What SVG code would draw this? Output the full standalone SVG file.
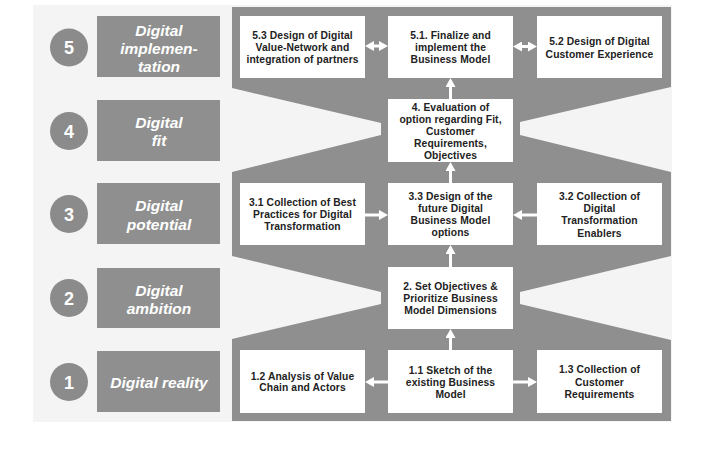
<svg xmlns="http://www.w3.org/2000/svg" width="713" height="451" viewBox="0 0 713 451">
<style>
.lvl{fill:#8f8f8f}
.circ{fill:#8b8b8b}
.num{font-family:"Liberation Sans",Arial,sans-serif;font-weight:bold;font-size:18px;fill:#fff;text-anchor:middle}
.lt{font-family:"Liberation Sans",Arial,sans-serif;font-weight:bold;font-style:italic;font-size:15.5px;fill:#fff;text-anchor:middle}
.box{fill:#fff}
.bt{font-family:"Liberation Sans",Arial,sans-serif;font-weight:bold;font-size:10.3px;letter-spacing:0.1px;fill:#222;text-anchor:middle}
.con line{stroke:#fff;stroke-width:3;fill:none}
</style>
<defs>
<marker id="ah" viewBox="0 0 9 10" markerWidth="9" markerHeight="10" refX="4" refY="5" markerUnits="userSpaceOnUse" orient="auto-start-reverse">
<path d="M0,0 L9,5 L0,10 Z" fill="#fff"/>
</marker>
</defs>
<rect x="0" y="0" width="713" height="451" fill="#fff"/>
<rect x="33" y="5" width="639" height="417" fill="#f4f4f4"/>
<path id="frame" d="M232,7 L671,7 L671,87 L520,122 L520,135 L671,172 L671,256 L520,292 L520,304 L671,340 L671,421 L232,421 L232,339 L381,304 L381,292 L232,256 L232,172 L381,135 L381,123 L232,88 Z" fill="#8f8f8f"/>

<g id="level5">
<circle class="circ" cx="69" cy="47.5" r="19"/>
<text class="num" x="69" y="54">5</text>
<rect class="lvl" x="97" y="16" width="123" height="61"/>
<text class="lt" x="159" y="35.5">Digital</text>
<text class="lt" x="159" y="54">implemen-</text>
<text class="lt" x="159" y="71.5">tation</text>
</g>
<g id="level4">
<circle class="circ" cx="69" cy="131" r="19"/>
<text class="num" x="69" y="137.5">4</text>
<rect class="lvl" x="97" y="100" width="123" height="61"/>
<text class="lt" x="159" y="128">Digital</text>
<text class="lt" x="159" y="146">fit</text>
</g>
<g id="level3">
<circle class="circ" cx="69" cy="214" r="19"/>
<text class="num" x="69" y="220.5">3</text>
<rect class="lvl" x="97" y="183" width="123" height="61"/>
<text class="lt" x="159" y="211">Digital</text>
<text class="lt" x="159" y="229.5">potential</text>
</g>
<g id="level2">
<circle class="circ" cx="69" cy="298" r="19"/>
<text class="num" x="69" y="304.5">2</text>
<rect class="lvl" x="97" y="268" width="123" height="60"/>
<text class="lt" x="159" y="295.5">Digital</text>
<text class="lt" x="159" y="313.5">ambition</text>
</g>
<g id="level1">
<circle class="circ" cx="69" cy="382" r="19"/>
<text class="num" x="69" y="388.5">1</text>
<rect class="lvl" x="97" y="351" width="123" height="61"/>
<text class="lt" x="159" y="388">Digital reality</text>
</g>

<g id="n53">
<rect class="box" x="240" y="16" width="125" height="62"/>
<text class="bt" x="302.5" y="38.5">5.3 Design of Digital</text>
<text class="bt" x="302.5" y="50.5">Value-Network and</text>
<text class="bt" x="302.5" y="62.5">integration of partners</text>
</g>
<g id="n51">
<rect class="box" x="388" y="16" width="125" height="62"/>
<text class="bt" x="450.5" y="38.5">5.1. Finalize and</text>
<text class="bt" x="450.5" y="50.5">implement the</text>
<text class="bt" x="450.5" y="62.5">Business Model</text>
</g>
<g id="n52">
<rect class="box" x="537" y="16" width="125" height="62"/>
<text class="bt" x="599.5" y="45">5.2 Design of Digital</text>
<text class="bt" x="599.5" y="57.5">Customer Experience</text>
</g>
<g id="n4">
<rect class="box" x="388" y="99" width="125" height="63"/>
<text class="bt" x="450.5" y="110.8">4. Evaluation of</text>
<text class="bt" x="450.5" y="122.8">option regarding Fit,</text>
<text class="bt" x="450.5" y="134.8">Customer</text>
<text class="bt" x="450.5" y="146.8">Requirements,</text>
<text class="bt" x="450.5" y="158.8">Objectives</text>
</g>
<g id="n31">
<rect class="box" x="240" y="183" width="125" height="62"/>
<text class="bt" x="302.5" y="205.8">3.1 Collection of Best</text>
<text class="bt" x="302.5" y="217.8">Practices for Digital</text>
<text class="bt" x="302.5" y="229.8">Transformation</text>
</g>
<g id="n33">
<rect class="box" x="388" y="183" width="125" height="62"/>
<text class="bt" x="450.5" y="200.2">3.3 Design of the</text>
<text class="bt" x="450.5" y="212.2">future Digital</text>
<text class="bt" x="450.5" y="224.2">Business Model</text>
<text class="bt" x="450.5" y="236.2">options</text>
</g>
<g id="n32">
<rect class="box" x="537" y="183" width="125" height="62"/>
<text class="bt" x="599.5" y="200">3.2 Collection of</text>
<text class="bt" x="599.5" y="212">Digital</text>
<text class="bt" x="599.5" y="224">Transformation</text>
<text class="bt" x="599.5" y="236.5">Enablers</text>
</g>
<g id="n2">
<rect class="box" x="388" y="267" width="125" height="62"/>
<text class="bt" x="450.5" y="290">2. Set Objectives &amp;</text>
<text class="bt" x="450.5" y="302">Prioritize Business</text>
<text class="bt" x="450.5" y="313.8">Model Dimensions</text>
</g>
<g id="n12">
<rect class="box" x="240" y="350" width="125" height="63"/>
<text class="bt" x="302.5" y="379.5">1.2 Analysis of Value</text>
<text class="bt" x="302.5" y="391">Chain and Actors</text>
</g>
<g id="n11">
<rect class="box" x="388" y="350" width="125" height="63"/>
<text class="bt" x="450.5" y="374.3">1.1 Sketch of the</text>
<text class="bt" x="450.5" y="386">existing Business</text>
<text class="bt" x="450.5" y="397.6">Model</text>
</g>
<g id="n13">
<rect class="box" x="537" y="350" width="125" height="63"/>
<text class="bt" x="599.5" y="373">1.3 Collection of</text>
<text class="bt" x="599.5" y="385.5">Customer</text>
<text class="bt" x="599.5" y="398">Requirements</text>
</g>

<g id="connectors" class="con">
<line x1="370" y1="46" x2="383" y2="46" marker-start="url(#ah)" marker-end="url(#ah)"/>
<line x1="518" y1="46.5" x2="532" y2="46.5" marker-start="url(#ah)" marker-end="url(#ah)"/>
<line x1="450.5" y1="99" x2="450.5" y2="83" marker-end="url(#ah)"/>
<line x1="450.5" y1="183" x2="450.5" y2="167" marker-end="url(#ah)"/>
<line x1="365" y1="215" x2="383" y2="215" marker-end="url(#ah)"/>
<line x1="537" y1="215" x2="518" y2="215" marker-end="url(#ah)"/>
<line x1="450.5" y1="267" x2="450.5" y2="250" marker-end="url(#ah)"/>
<line x1="450.5" y1="350" x2="450.5" y2="334" marker-end="url(#ah)"/>
<line x1="388" y1="382" x2="370" y2="382" marker-end="url(#ah)"/>
<line x1="513" y1="382" x2="532" y2="382" marker-end="url(#ah)"/>
</g>
</svg>
